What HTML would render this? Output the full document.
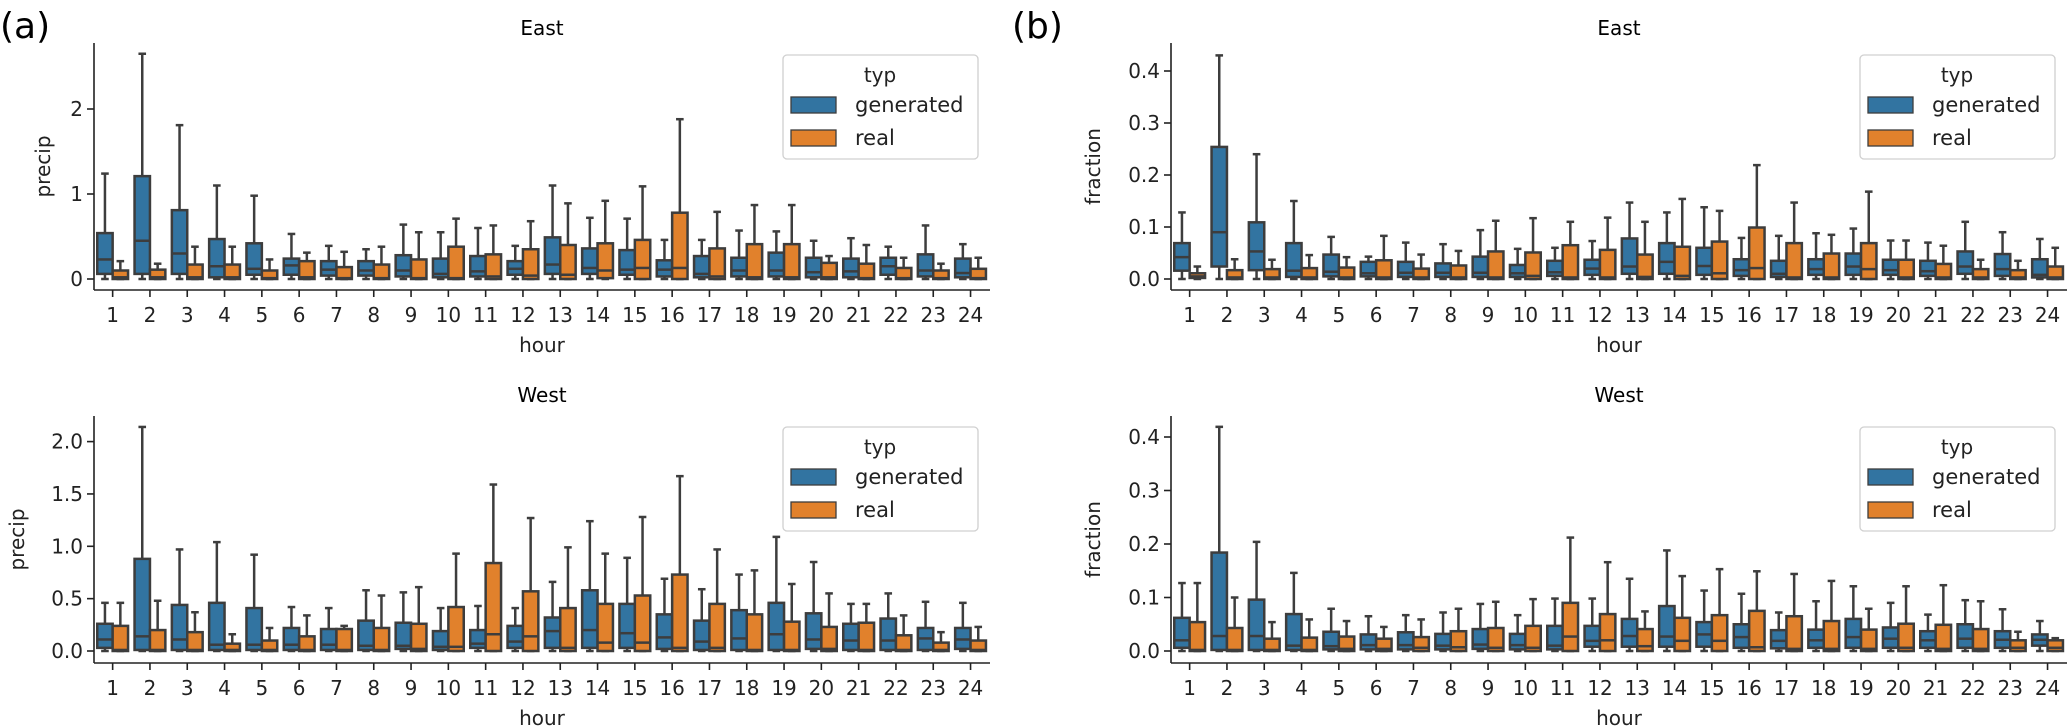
<!DOCTYPE html>
<html><head><meta charset="utf-8"><style>
html,body{margin:0;padding:0;background:#fff;}
svg{display:block;font-family:"DejaVu Sans","Liberation Sans",sans-serif;}
</style></head><body>
<svg id="fig" width="2068" height="726" viewBox="0 0 2068 726" xmlns="http://www.w3.org/2000/svg">
<text x="0" y="38" font-size="36">(a)</text>
<text x="1012" y="38" font-size="36">(b)</text>
</svg>
<script>
// each entry: [lowerWhisker, q1, median, q3, upperWhisker], hours 1..24
const hours = [1,2,3,4,5,6,7,8,9,10,11,12,13,14,15,16,17,18,19,20,21,22,23,24];
const eastPrecipGen = [[0,0.06,0.23,0.54,1.24],[0,0.06,0.45,1.21,2.65],[0,0.06,0.30,0.81,1.81],[0,0.02,0.15,0.47,1.10],[0,0.05,0.12,0.42,0.98],[0,0.05,0.16,0.24,0.53],[0,0.04,0.11,0.21,0.39],[0,0.04,0.10,0.21,0.35],[0,0.03,0.10,0.28,0.64],[0,0.02,0.06,0.24,0.55],[0,0.03,0.09,0.27,0.60],[0,0.05,0.12,0.21,0.39],[0,0.06,0.17,0.49,1.10],[0,0.06,0.13,0.36,0.72],[0,0.05,0.11,0.34,0.71],[0,0.03,0.11,0.22,0.46],[0,0.02,0.06,0.27,0.46],[0,0.03,0.10,0.25,0.57],[0,0.03,0.10,0.31,0.56],[0,0.02,0.08,0.25,0.45],[0,0.02,0.09,0.24,0.48],[0,0.05,0.15,0.25,0.38],[0,0.03,0.10,0.29,0.63],[0,0.02,0.07,0.24,0.41]];
const eastPrecipReal = [[0,0,0.02,0.10,0.21],[0,0,0.02,0.11,0.18],[0,0,0.02,0.17,0.38],[0,0,0.02,0.17,0.38],[0,0,0.01,0.10,0.23],[0,0,0.02,0.21,0.31],[0,0,0.01,0.14,0.32],[0,0,0.01,0.17,0.38],[0,0,0.01,0.23,0.55],[0,0,0.01,0.38,0.71],[0,0,0.03,0.29,0.63],[0,0,0.04,0.35,0.68],[0,0,0.05,0.40,0.89],[0,0.01,0.10,0.42,0.92],[0,0,0.13,0.46,1.09],[0,0,0.13,0.78,1.88],[0,0,0.03,0.36,0.79],[0,0,0.02,0.41,0.87],[0,0,0.02,0.41,0.87],[0,0,0.02,0.19,0.27],[0,0,0.01,0.18,0.40],[0,0,0.01,0.13,0.25],[0,0,0.01,0.10,0.18],[0,0,0.01,0.12,0.25]];
const westPrecipGen = [[0,0.03,0.11,0.26,0.46],[0,0.01,0.14,0.88,2.14],[0,0.01,0.11,0.44,0.97],[0,0.01,0.06,0.46,1.04],[0,0.01,0.06,0.41,0.92],[0,0.01,0.06,0.22,0.42],[0,0.01,0.06,0.21,0.41],[0,0.01,0.05,0.29,0.58],[0,0.02,0.05,0.27,0.56],[0,0.01,0.04,0.19,0.41],[0,0.03,0.07,0.20,0.43],[0,0.03,0.09,0.24,0.41],[0,0.03,0.19,0.32,0.66],[0,0.03,0.20,0.58,1.24],[0,0.03,0.17,0.45,0.89],[0,0.02,0.13,0.35,0.69],[0,0.01,0.09,0.29,0.59],[0,0.01,0.12,0.39,0.73],[0,0.01,0.16,0.46,1.09],[0,0.02,0.11,0.36,0.85],[0,0.01,0.10,0.26,0.45],[0,0.01,0.10,0.31,0.55],[0,0.01,0.12,0.22,0.47],[0,0.02,0.11,0.22,0.46]];
const westPrecipReal = [[0,0,0.01,0.24,0.46],[0,0,0.01,0.20,0.48],[0,0,0.01,0.18,0.37],[0,0,0.01,0.07,0.16],[0,0,0.01,0.10,0.22],[0,0,0.01,0.14,0.34],[0,0,0.01,0.21,0.24],[0,0,0.01,0.22,0.53],[0,0,0.02,0.26,0.61],[0,0,0.04,0.42,0.93],[0,0,0.16,0.84,1.59],[0,0,0.14,0.57,1.27],[0,0,0.03,0.41,0.99],[0,0,0.08,0.45,0.93],[0,0,0.08,0.53,1.28],[0,0,0.03,0.73,1.67],[0,0,0.03,0.45,0.97],[0,0,0.01,0.35,0.77],[0,0,0.01,0.28,0.64],[0,0,0.02,0.23,0.55],[0,0,0.01,0.27,0.45],[0,0,0.01,0.15,0.34],[0,0,0.01,0.08,0.18],[0,0,0.01,0.10,0.23]];
const eastFracGen = [[0,0.016,0.042,0.069,0.128],[0,0.024,0.090,0.254,0.430],[0,0.017,0.053,0.109,0.240],[0,0.004,0.016,0.069,0.150],[0,0.005,0.014,0.047,0.081],[0,0.005,0.011,0.033,0.043],[0,0.004,0.012,0.033,0.070],[0,0.004,0.012,0.030,0.067],[0,0.004,0.012,0.043,0.094],[0,0.004,0.011,0.027,0.058],[0,0.006,0.013,0.035,0.060],[0,0.008,0.020,0.037,0.073],[0,0.010,0.024,0.078,0.147],[0,0.010,0.033,0.069,0.128],[0,0.008,0.025,0.060,0.138],[0,0.006,0.017,0.038,0.079],[0,0.004,0.010,0.035,0.083],[0,0.008,0.019,0.038,0.088],[0,0.008,0.024,0.049,0.097],[0,0.008,0.017,0.037,0.074],[0,0.006,0.015,0.035,0.070],[0,0.010,0.024,0.053,0.110],[0,0.006,0.019,0.048,0.090],[0,0.003,0.008,0.038,0.077]];
const eastFracReal = [[0,0.002,0.005,0.011,0.024],[0,0,0.003,0.017,0.038],[0,0,0.003,0.019,0.037],[0,0,0.003,0.021,0.046],[0,0,0.003,0.022,0.042],[0,0,0.003,0.036,0.083],[0,0,0.003,0.020,0.047],[0,0,0.003,0.026,0.054],[0,0,0.003,0.053,0.112],[0,0,0.006,0.051,0.117],[0,0,0.003,0.065,0.110],[0,0,0.003,0.056,0.118],[0,0,0.004,0.047,0.110],[0,0,0.006,0.062,0.154],[0,0,0.011,0.072,0.131],[0,0,0.021,0.099,0.219],[0,0,0.003,0.069,0.147],[0,0,0.003,0.049,0.085],[0,0,0.019,0.069,0.168],[0,0,0.003,0.037,0.074],[0,0,0.003,0.029,0.064],[0,0,0.003,0.019,0.037],[0,0,0.003,0.017,0.035],[0,0,0.003,0.024,0.060]];
const westFracGen = [[0,0.006,0.020,0.062,0.127],[0,0.002,0.028,0.184,0.419],[0,0.002,0.028,0.096,0.204],[0,0.002,0.010,0.069,0.146],[0,0.003,0.009,0.036,0.079],[0,0.003,0.011,0.031,0.065],[0,0.003,0.011,0.035,0.067],[0,0.003,0.010,0.032,0.072],[0,0.004,0.012,0.041,0.088],[0,0.003,0.011,0.032,0.067],[0,0.003,0.010,0.047,0.098],[0,0.008,0.019,0.047,0.098],[0,0.008,0.028,0.060,0.135],[0,0.008,0.027,0.084,0.188],[0,0.008,0.031,0.054,0.113],[0,0.006,0.026,0.050,0.107],[0,0.005,0.019,0.039,0.072],[0,0.006,0.020,0.040,0.093],[0,0.006,0.026,0.060,0.121],[0,0.006,0.023,0.044,0.090],[0,0.006,0.020,0.037,0.068],[0,0.006,0.023,0.050,0.095],[0,0.006,0.021,0.037,0.078],[0,0.010,0.021,0.031,0.056]];
const westFracReal = [[0,0,0.002,0.054,0.127],[0,0,0.002,0.043,0.100],[0,0,0.002,0.023,0.054],[0,0,0.002,0.025,0.059],[0,0,0.004,0.027,0.056],[0,0,0.004,0.023,0.045],[0,0,0.006,0.026,0.059],[0,0,0.007,0.037,0.079],[0,0,0.006,0.043,0.092],[0,0,0.006,0.047,0.097],[0,0,0.027,0.090,0.212],[0,0,0.020,0.069,0.166],[0,0,0.009,0.041,0.074],[0,0,0.019,0.062,0.140],[0,0,0.019,0.067,0.153],[0,0,0.007,0.075,0.149],[0,0,0.004,0.065,0.144],[0,0,0.004,0.056,0.131],[0,0,0.004,0.040,0.079],[0,0,0.006,0.051,0.121],[0,0,0.004,0.049,0.123],[0,0,0.004,0.041,0.093],[0,0,0.006,0.020,0.036],[0,0,0.006,0.020,0.024]];
const precipTicksEast = [0,1,2];
const precipTicksWest = [0,0.5,1.0,1.5,2.0];
const fracTicks = [0,0.1,0.2,0.3,0.4];

const NS = 'http://www.w3.org/2000/svg';
const svg = document.getElementById('fig');
function mk(tag, attrs, parent){
  const e = document.createElementNS(NS, tag);
  for (const k in attrs) e.setAttribute(k, attrs[k]);
  (parent||svg).appendChild(e);
  return e;
}
const EDGE = '#3d3d3d', BLUE = '#3274a1', ORANGE = '#e1812c';

function panel(cfg){
  const g = mk('g', {});
  
  
  const ax0 = cfg.x0, ax1 = cfg.x0 + 896, step = 37.3;
  const xOf = i => ax0 + 18.65 + i * step;
  const yOf = v => cfg.zero - v * cfg.scale;
  const t = mk('text', {x:(ax0+ax1)/2, y:cfg.titleY, 'font-size':20, 'text-anchor':'middle'}, g);
  t.textContent = cfg.title;
  
  
  const series = [[cfg.gen, BLUE, -7.7, 'generated'], [cfg.real, ORANGE, 7.7, 'real']];
  series.forEach(([data, col, off, nm]) => {
    data.forEach((d, i) => {
      const cx = xOf(i) + off, w = 15.4;
      const bg = mk('g', {stroke:EDGE, 'stroke-width':2.5, fill:'none'}, g);
      
      
      mk('line', {x1:cx, x2:cx, y1:yOf(d[3]), y2:yOf(d[4])}, bg);
      mk('line', {x1:cx, x2:cx, y1:yOf(d[0]), y2:yOf(d[1])}, bg);
      mk('line', {x1:cx-3.8, x2:cx+3.8, y1:yOf(d[4]), y2:yOf(d[4])}, bg);
      mk('line', {x1:cx-3.8, x2:cx+3.8, y1:yOf(d[0]), y2:yOf(d[0])}, bg);
      mk('rect', {x:cx-w/2, y:yOf(d[3]), width:w, height:Math.max(0.5, yOf(d[1])-yOf(d[3])), fill:col}, bg);
      mk('line', {x1:cx-w/2, x2:cx+w/2, y1:yOf(d[2]), y2:yOf(d[2])}, bg);
    });
  });
  const axg = mk('g', {stroke:'#222', 'stroke-width':1.6}, g);
  
  
  mk('line', {x1:ax0, x2:ax0, y1:cfg.top, y2:cfg.bottom}, axg);
  mk('line', {x1:ax0, x2:ax1, y1:cfg.bottom, y2:cfg.bottom}, axg);
  cfg.ticks.forEach(v => {
    mk('line', {x1:ax0-7, x2:ax0, y1:yOf(v), y2:yOf(v)}, axg);
    const tl = mk('text', {x:ax0-11, y:yOf(v)+7, 'font-size':20, 'text-anchor':'end', stroke:'none', fill:'#222'}, g);
    tl.textContent = cfg.fmt(v);
    
    
  });
  hours.forEach((h, i) => {
    mk('line', {x1:xOf(i), x2:xOf(i), y1:cfg.bottom, y2:cfg.bottom+7}, axg);
    const tl = mk('text', {x:xOf(i), y:cfg.bottom+32, 'font-size':20, 'text-anchor':'middle', fill:'#222'}, g);
    tl.textContent = h;
    
    
  });
  const xl = mk('text', {x:(ax0+ax1)/2, y:cfg.bottom+62, 'font-size':20, 'text-anchor':'middle', fill:'#222'}, g);
  xl.textContent = 'hour';
  
  
  const yc = (cfg.top + cfg.bottom) / 2;
  const yl = mk('text', {x:cfg.ylabX, y:yc, 'font-size':20, 'text-anchor':'middle', fill:'#222', transform:'rotate(-90 '+cfg.ylabX+' '+yc+')'}, g);
  yl.textContent = cfg.ylab;
  
  
  const lx = ax0 + 689, ly = cfg.legY;
  const lg = mk('g', {}, g);
  
  
  mk('rect', {x:lx, y:ly, width:195, height:104, rx:4, fill:'#fff', 'fill-opacity':0.8, stroke:'#d0d0d0', 'stroke-width':1.3}, lg);
  const lt = mk('text', {x:lx+97, y:ly+27, 'font-size':20, 'text-anchor':'middle', fill:'#222'}, lg);
  lt.textContent = 'typ';
  
  
  [['generated', BLUE, 42], ['real', ORANGE, 75]].forEach(([nm, col, dy]) => {
    const e = mk('g', {}, lg);
    
    
    mk('rect', {x:lx+8, y:ly+dy, width:45, height:16, fill:col, stroke:EDGE, 'stroke-width':1.3}, e);
    const tx = mk('text', {x:lx+72, y:ly+dy+15, 'font-size':21, fill:'#222'}, e);
    tx.textContent = nm;
  });
}
const fmt0 = v => String(v);
const fmt1 = v => v.toFixed(1);
panel({name:'panel-a-east', title:'East', titleY:35, x0:94, zero:279, scale:85, top:43, bottom:290, ticks:precipTicksEast, fmt:fmt0, gen:eastPrecipGen, real:eastPrecipReal, ylab:'precip', ylabX:50, legY:55});
panel({name:'panel-a-west', title:'West', titleY:402, x0:94, zero:651, scale:104.7, top:416, bottom:663, ticks:precipTicksWest, fmt:fmt1, gen:westPrecipGen, real:westPrecipReal, ylab:'precip', ylabX:24, legY:427});
panel({name:'panel-b-east', title:'East', titleY:35, x0:1171, zero:279, scale:520, top:43, bottom:290, ticks:fracTicks, fmt:fmt1, gen:eastFracGen, real:eastFracReal, ylab:'fraction', ylabX:1100, legY:55});
panel({name:'panel-b-west', title:'West', titleY:402, x0:1171, zero:651, scale:535, top:416, bottom:663, ticks:fracTicks, fmt:fmt1, gen:westFracGen, real:westFracReal, ylab:'fraction', ylabX:1100, legY:427});
</script>
</body></html>
